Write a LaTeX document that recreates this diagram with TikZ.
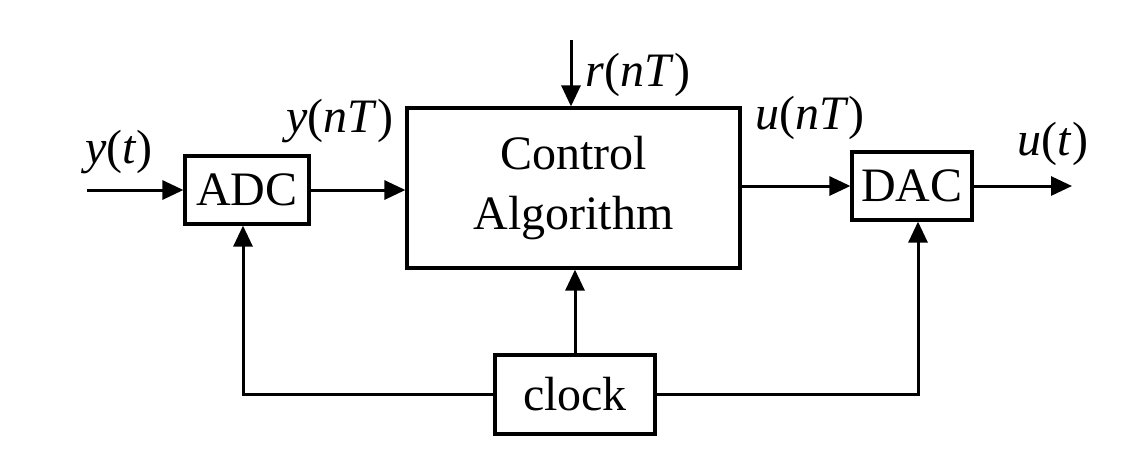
\documentclass[tikz,border=0pt]{standalone}
\usepackage{fontspec}
\setmainfont{Liberation Serif}
\usetikzlibrary{arrows.meta}
\begin{document}
\begin{tikzpicture}[x=0.5pt,y=-0.5pt,
  blk/.style={draw, line width=1.6pt, inner sep=0pt, font=\fontsize{24}{30}\selectfont},
  lbl/.style={inner sep=0pt, font=\fontsize{24}{28}\selectfont},
  arr/.style={line width=1.5pt, -{Triangle[length=10.5pt,width=9.5pt]}},
  ln/.style={line width=1.5pt}]
\fill[white] (0,0) rectangle (1126,463);
\useasboundingbox (0,0) rectangle (1126,463);
% blocks
\node[blk, minimum width=62pt, minimum height=34pt] (adc) at (247,190) {ADC};
\node[blk, minimum width=166.5pt, minimum height=80pt, align=center] (ctrl) at (573.5,188) {Control\\Algorithm};
\node[blk, minimum width=60pt, minimum height=34pt] (dac) at (912,186) {DAC};
\node[blk, minimum width=80pt, minimum height=39.5pt] (clock) at (575,394.5) {clock};
% free ends
\coordinate (yin) at (87,190);
\coordinate (uout) at (1072,186);
\coordinate (rin) at (571,40);
% connectors
\draw[arr] (yin) -- (adc.west);
\draw[arr] (adc.east) -- (adc.east -| ctrl.west);
\draw[arr] (ctrl.east |- dac.west) -- (dac.west);
\draw[arr] (dac.east) -- (uout);
\draw[arr] (rin) -- (rin |- ctrl.north);
\draw[arr] (clock.north) -- (clock.north |- ctrl.south);
\draw[arr] (clock.west) -| ([xshift=-2pt]adc.south);
\draw[arr] (clock.east) -| ([xshift=3pt]dac.south);
% labels
\node[lbl] (lyt) at (119,152) {\textit{y}(\textit{t})};
\node[lbl] (lynt) at (340,121) {\textit{y}(\textit{nT})};
\node[lbl] (lrnt) at (638,75) {\textit{r}(\textit{nT})};
\node[lbl] (lunt) at (810,118) {\textit{u}(\textit{nT})};
\node[lbl] (lut) at (1053,144) {\textit{u}(\textit{t})};
\end{tikzpicture}
\end{document}
